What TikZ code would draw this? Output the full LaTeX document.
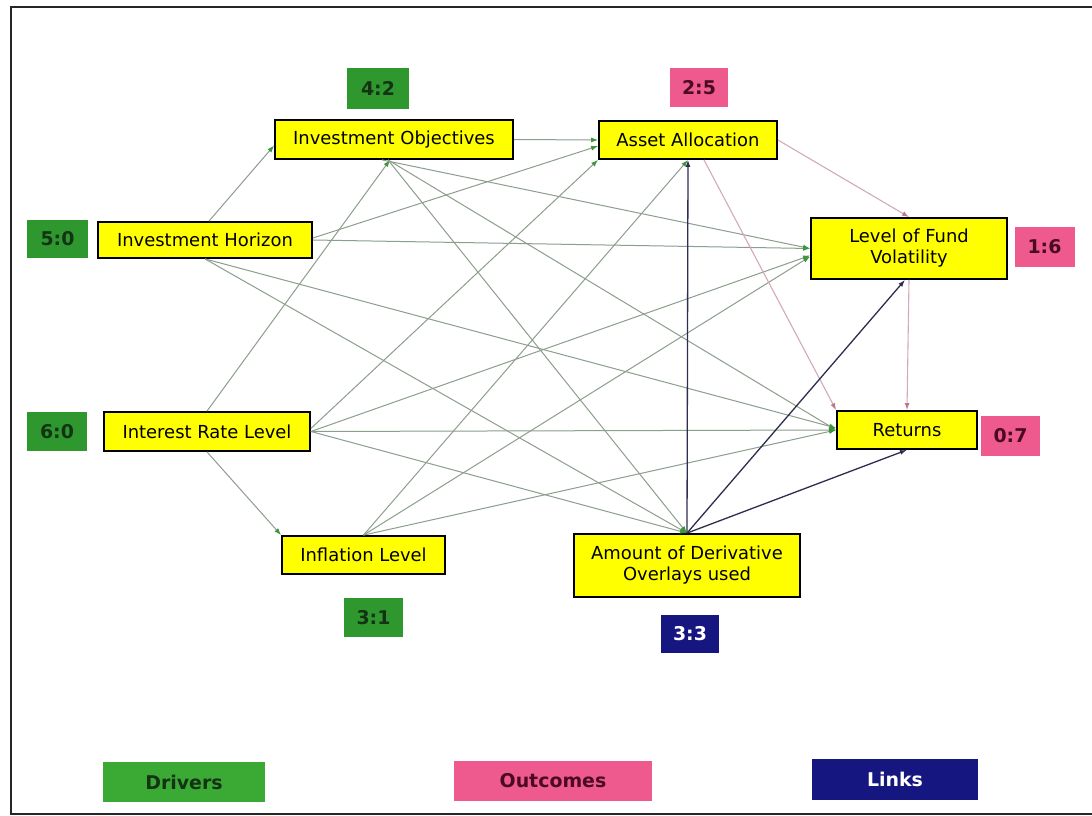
\documentclass[tikz,border=0pt]{standalone}
\usepackage{fontspec}
\setmainfont{DejaVu Sans}
\usetikzlibrary{arrows.meta,calc}

\definecolor{boxyellow}{RGB}{255,255,0}
\definecolor{drvgreen}{RGB}{46,152,46}
\definecolor{legreen}{RGB}{58,170,52}
\definecolor{outpink}{RGB}{238,90,142}
\definecolor{linknavy}{RGB}{22,22,128}
\definecolor{drvline}{RGB}{140,158,140}
\definecolor{drvtip}{RGB}{60,150,60}
\definecolor{outcline}{RGB}{210,170,185}
\definecolor{outctip}{RGB}{190,120,145}
\definecolor{linkline}{RGB}{45,45,80}
\definecolor{drvtext}{RGB}{20,50,20}
\definecolor{outtext}{RGB}{75,10,35}

\tikzset{
  factor/.style={draw=black, line width=1.8bp, fill=boxyellow, inner sep=0pt,
    font=\fontsize{18}{21}\selectfont, align=center},
  badge/.style={inner sep=0pt, font=\fontsize{19}{22}\selectfont\bfseries},
  drvbadge/.style={badge, fill=drvgreen, text=drvtext},
  outbadge/.style={badge, fill=outpink, text=outtext},
  linkbadge/.style={badge, fill=linknavy, text=white},
  drvedge/.style={draw=drvline, line width=1bp, -{Latex[length=7bp,width=5bp,color=drvtip]}},
  outcedge/.style={draw=outcline, line width=1.1bp, -{Latex[length=7bp,width=5bp,color=outctip]}},
  linkedge/.style={draw=linkline, line width=1.3bp, -{Latex[length=7bp,width=5bp,color=linkline]}},
}

\begin{document}
\begin{tikzpicture}[x=1bp,y=-1bp]
\useasboundingbox (0,0) rectangle (1092,816);
\fill[white] (0,0) rectangle (1092,816);
\draw[line width=2.4bp, black!85] (1092,7) -- (11,7) -- (11,814) -- (1092,814);

% factor boxes
\node[factor, minimum width=238bp, minimum height=39bp] (IO)  at (394,139.5) {Investment Objectives};
\node[factor, minimum width=178bp, minimum height=38bp] (AA)  at (688,140) {Asset Allocation};
\node[factor, minimum width=214bp, minimum height=36bp] (IH)  at (205,240) {Investment Horizon};
\node[factor, minimum width=196bp, minimum height=61bp] (LFV) at (909,248.5) {Level of Fund\\Volatility};
\node[factor, minimum width=206bp, minimum height=39bp] (IRL) at (207,431.5) {Interest Rate Level};
\node[factor, minimum width=140bp, minimum height=38bp] (Ret) at (907,430) {Returns};
\node[factor, minimum width=163bp, minimum height=38bp] (Inf) at (363.5,555) {Inflation Level};
\node[factor, minimum width=226bp, minimum height=63bp] (Der) at (687,565.5) {Amount of Derivative\\Overlays used};

% count badges
\node[drvbadge,  minimum width=62bp, minimum height=40bp] (b42) at (378,88.5) {4:2};
\node[outbadge,  minimum width=58bp, minimum height=39bp] (b25) at (699,87.5) {2:5};
\node[drvbadge,  minimum width=61bp, minimum height=38bp] (b50) at (57.5,239) {5:0};
\node[outbadge,  minimum width=60bp, minimum height=40bp] (b16) at (1044.5,247) {1:6};
\node[drvbadge,  minimum width=60bp, minimum height=39bp] (b60) at (57,431.5) {6:0};
\node[outbadge,  minimum width=59bp, minimum height=40bp] (b07) at (1010.5,436) {0:7};
\node[drvbadge,  minimum width=59bp, minimum height=39bp] (b31) at (373.5,617.5) {3:1};
\node[linkbadge, minimum width=58bp, minimum height=38bp] (b33) at (690,634) {3:3};

% legend
\node[badge, fill=legreen, text=drvtext, minimum width=162bp, minimum height=40bp] (lgd) at (184,782) {Drivers};
\node[outbadge, minimum width=198bp, minimum height=40bp] (lgo) at (553,780.5) {Outcomes};
\node[linkbadge, minimum width=166bp, minimum height=41bp] (lgl) at (895,779.5) {Links};

% driver connectors
\draw[drvedge] ($(IH.north)+(4,0)$) -- ($(IO.west)+(0,6)$);
\draw[drvedge] ($(IH.east)+(0,-2)$) -- ($(AA.west)+(0,6)$);
\draw[drvedge] (IH.east) -- (LFV.west);
\draw[drvedge] (IH.south) -- ($(Ret.west)+(0,-2)$);
\draw[drvedge] (IH.south) -- (Der.north);

\draw[drvedge] (IRL.north) -- ($(IO.south)+(-4,0)$);
\draw[drvedge] ($(IRL.east)+(0,-3)$) -- (AA.south west);
\draw[drvedge] (IRL.east) -- ($(LFV.west)+(0,7)$);
\draw[drvedge] (IRL.east) -- (Ret.west);
\draw[drvedge] (IRL.south) -- (Inf.north west);
\draw[drvedge] (IRL.east) -- (Der.north);

\draw[drvedge] (IO.east) -- (AA.west);
\draw[drvedge] ($(IO.south)+(-12,0)$) -- (LFV.west);
\draw[drvedge] ($(IO.south)+(-6,0)$) -- (Ret.west);
\draw[drvedge] ($(IO.south)+(-6,0)$) -- (Der.north);

\draw[drvedge] (Inf.north) -- (AA.south);
\draw[drvedge] (Inf.north) -- ($(LFV.west)+(0,8)$);
\draw[drvedge] (Inf.north) -- (Ret.west);

% outcome connectors
\draw[outcedge] (AA.east) -- (LFV.north);
\draw[outcedge] ($(AA.south)+(16,0)$) -- (Ret.north west);
\draw[outcedge] (LFV.south) -- (Ret.north);

% link connectors
\draw[linkedge] (Der.north) -- (AA.south);
\draw[linkedge] (Der.north) -- ($(LFV.south)+(-4,0)$);
\draw[linkedge] (Der.north) -- (Ret.south);
\end{tikzpicture}
\end{document}
